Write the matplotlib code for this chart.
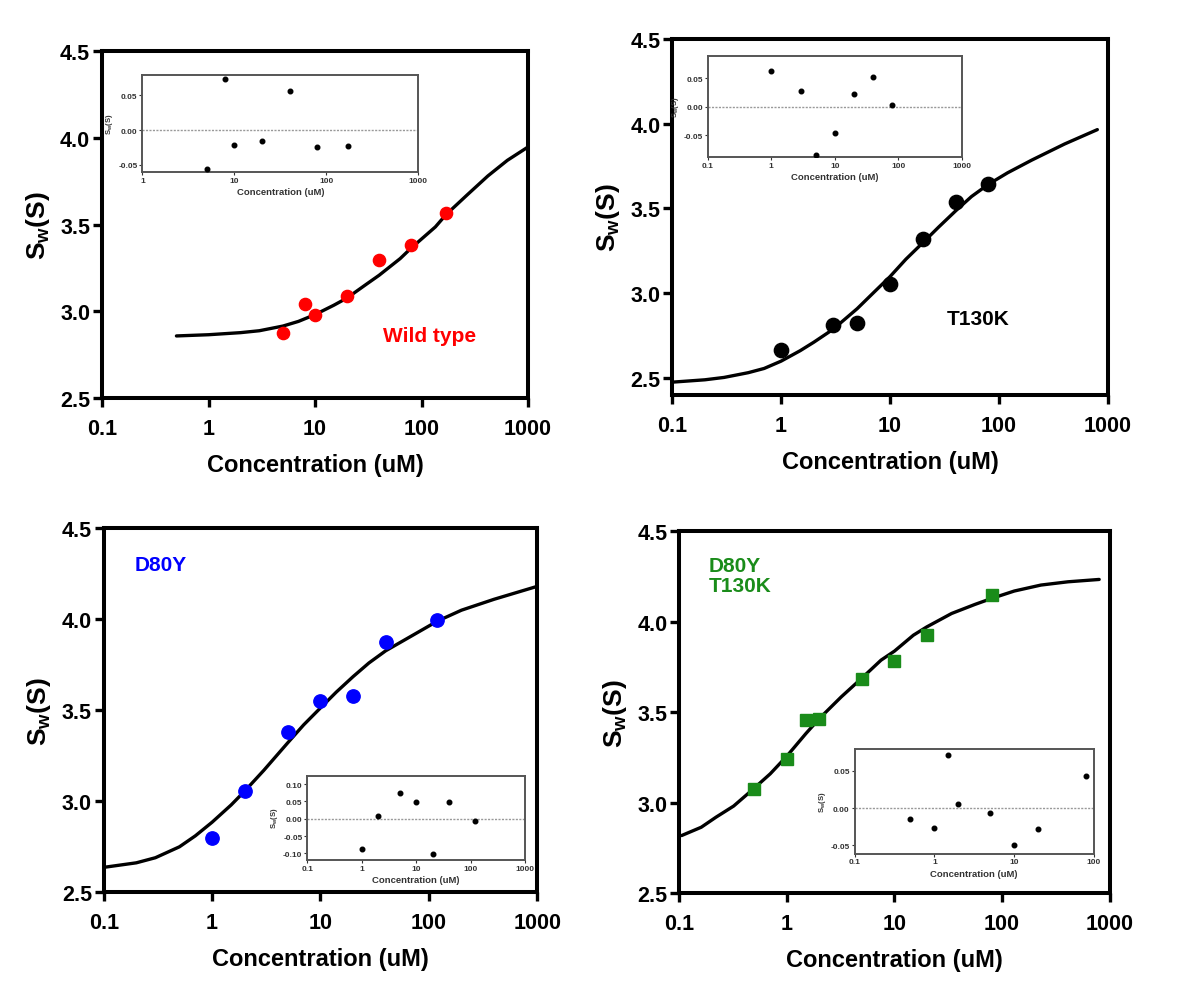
import numpy as np
import matplotlib.pyplot as plt
from matplotlib.ticker import FormatStrFormatter

plt.rcParams['font.family'] = ['Liberation Sans', 'DejaVu Sans']
plt.rcParams['font.weight'] = 'bold'
plt.rcParams['axes.labelweight'] = 'bold'
plt.rcParams['mathtext.fontset'] = 'custom'
plt.rcParams['mathtext.rm'] = 'Liberation Sans:bold'
plt.rcParams['mathtext.it'] = 'Liberation Sans:bold'
plt.rcParams['mathtext.bf'] = 'Liberation Sans:bold'

W, H = 1177, 1004

# ---- wild type
wt_conc = [5, 8, 10, 20, 40, 80, 170]
wt_sw = [2.877, 3.044, 2.977, 3.087, 3.298, 3.385, 3.570]
wt_fit_conc = [0.5, 1, 2, 3, 5, 7, 10, 15, 20, 30, 40, 63, 80, 135, 170, 270, 420, 640, 1000]
wt_fit_sw = [2.858, 2.865, 2.877, 2.888, 2.915, 2.942, 2.981, 3.035, 3.077, 3.154, 3.208,
             3.304, 3.365, 3.487, 3.558, 3.673, 3.781, 3.871, 3.948]
wt_res = [-0.0558, 0.0736, -0.0212, -0.0159, 0.0563, -0.024, -0.0226]

# ---- T130K
t_conc = [1, 3, 5, 10, 20, 40, 80]
t_sw = [2.661, 2.813, 2.823, 3.051, 3.32, 3.538, 3.645]
t_fit_conc = [0.1, 0.2, 0.3, 0.5, 0.7, 1, 1.5, 2, 3, 5, 7, 10, 14, 20, 28, 40, 56, 80, 120, 200, 400, 800]
t_fit_sw = [2.474, 2.488, 2.502, 2.530, 2.555, 2.598, 2.660, 2.710, 2.786, 2.908, 3.000, 3.097,
            3.200, 3.297, 3.390, 3.485, 3.570, 3.642, 3.710, 3.785, 3.880, 3.965]
t_res = [0.0626, 0.0269, -0.0848, -0.0462, 0.0228, 0.0526, 0.0029]

# ---- D80Y
d_conc = [1, 2, 5, 10, 20, 40, 120]
d_sw = [2.797, 3.057, 3.379, 3.549, 3.581, 3.874, 3.996]
d_fit_conc = [0.1, 0.2, 0.3, 0.5, 0.7, 1, 1.5, 2, 3, 5, 7, 10, 14, 20, 28, 40, 70, 120, 200, 400, 1000]
d_fit_sw = [2.637, 2.662, 2.690, 2.750, 2.810, 2.885, 2.980, 3.056, 3.170, 3.322, 3.420, 3.513,
            3.600, 3.685, 3.760, 3.827, 3.910, 3.990, 4.050, 4.110, 4.181]
d_res = [-0.0886, 0.0086, 0.073, 0.048, -0.101, 0.048, -0.0067]

# ---- D80Y T130K
dt_conc = [0.5, 1, 1.5, 2, 5, 10, 20, 80]
dt_sw = [3.076, 3.244, 3.458, 3.465, 3.684, 3.785, 3.927, 4.15]
dt_fit_conc = [0.105, 0.16, 0.22, 0.32, 0.47, 0.7, 1, 1.5, 2, 3.2, 5, 7.5, 10, 15, 20, 34, 56, 80,
               130, 230, 410, 800]
dt_fit_sw = [2.819, 2.865, 2.921, 2.982, 3.068, 3.160, 3.258, 3.382, 3.465, 3.585, 3.690, 3.788,
             3.838, 3.926, 3.972, 4.046, 4.096, 4.129, 4.170, 4.203, 4.221, 4.234]
dt_res = [-0.0147, -0.0268, 0.0714, 0.0058, -0.0063, -0.0496, -0.0277, 0.0437]

main_xticks = [0.1, 1, 10, 100, 1000]
main_xlabels = ['0.1', '1', '10', '100', '1000']
main_yticks = [2.5, 3.0, 3.5, 4.0, 4.5]

fig = plt.figure(figsize=(W / 100, H / 100), dpi=100)
fig.patch.set_facecolor('white')


def rect(x0, y0, x1, y1):
    # pixel box -> figure fraction
    return [x0 / W, 1 - y1 / H, (x1 - x0) / W, (y1 - y0) / H]


def main_axes(box, ylim):
    ax = fig.add_axes(rect(*box))
    ax.set_xscale('log')
    ax.set_xlim(0.1, 1000)
    ax.set_ylim(*ylim)
    ax.set_xticks(main_xticks)
    ax.set_xticklabels(main_xlabels)
    ax.minorticks_off()
    ax.set_yticks(main_yticks)
    ax.yaxis.set_major_formatter(FormatStrFormatter('%.1f'))
    for s in ax.spines.values():
        s.set_linewidth(2.9)
        s.set_color('black')
    ax.tick_params(axis='both', direction='out', length=6.5, width=2.4, labelsize=15.5)
    ax.tick_params(axis='x', pad=8)
    ax.tick_params(axis='y', pad=2)
    ax.set_xlabel('Concentration (uM)', fontsize=17, labelpad=10)
    ax.set_ylabel(r'$\mathrm{S_w}$(S)', fontsize=19, labelpad=6)
    return ax


def inset(box, xs, res, xlim, xticks, xlabels, ylim, yticks):
    ax = fig.add_axes(rect(*box))
    ax.set_xscale('log')
    ax.set_xlim(*xlim)
    ax.set_ylim(*ylim)
    ax.set_xticks(xticks)
    ax.set_xticklabels(xlabels)
    ax.minorticks_off()
    ax.set_yticks(yticks)
    ax.yaxis.set_major_formatter(FormatStrFormatter('%.2f'))
    ax.axhline(0, color='#999999', lw=1.0, ls=(0, (1.5, 1)), zorder=1)
    ax.plot(xs, res, 'o', color='black', ms=3.3, zorder=3)
    for s in ax.spines.values():
        s.set_linewidth(1.4)
        s.set_color('#555555')
    ax.tick_params(axis='both', direction='out', length=2, width=0.8, labelsize=6, pad=1.5, colors='#333333')
    ax.set_xlabel('Concentration (uM)', fontsize=6.8, labelpad=2.5, color='#333333')
    ax.set_ylabel(r'$\mathrm{S_w}$(S)', fontsize=5.5, labelpad=2, color='#333333')
    ax.set_facecolor('white')
    return ax


# top-left: wild type
ax1 = main_axes((102, 52.3, 528, 399), (2.5, 4.5))
ax1.plot(wt_fit_conc, wt_fit_sw, color='black', lw=2.4, zorder=2, solid_capstyle='round')
ax1.plot(wt_conc, wt_sw, 'o', color='#ff0000', ms=8.8, zorder=3)
ax1.text(0.66, 0.18, 'Wild type', color='#ff0000', fontsize=15, transform=ax1.transAxes, ha='left', va='center')
inset((142.3, 76, 418.3, 173), wt_conc, wt_res, (1, 1000), [1, 10, 100, 1000], ['1', '10', '100', '1000'],
      (-0.0603, 0.0794), [-0.05, 0.0, 0.05])

# top-right: T130K
ax2 = main_axes((672.1, 40, 1107.9, 395.7), (2.4, 4.5))
ax2.plot(t_fit_conc, t_fit_sw, color='black', lw=2.4, zorder=2, solid_capstyle='round')
ax2.plot(t_conc, t_sw, 'o', color='black', ms=10.3, zorder=3)
ax2.text(0.631, 0.213, 'T130K', color='black', fontsize=15, transform=ax2.transAxes, ha='left', va='center')
inset((707.7, 57.3, 961.7, 157.7), t_conc, t_res, (0.1, 1000), [0.1, 1, 10, 100, 1000],
      ['0.1', '1', '10', '100', '1000'], (-0.0877, 0.0883), [-0.05, 0.0, 0.05])

# bottom-left: D80Y
ax3 = main_axes((103.7, 529.3, 537.2, 893.3), (2.5, 4.5))
ax3.plot(d_fit_conc, d_fit_sw, color='black', lw=2.4, zorder=2, solid_capstyle='round')
ax3.plot(d_conc, d_sw, 'o', color='#0000ff', ms=9.6, zorder=3)
ax3.text(0.0715, 0.90, 'D80Y', color='#0000ff', fontsize=15, transform=ax3.transAxes, ha='left', va='center')
inset((307.3, 776.7, 525.2, 860.7), d_conc, d_res, (0.1, 1000), [0.1, 1, 10, 100, 1000],
      ['0.1', '1', '10', '100', '1000'], (-0.118, 0.124), [-0.10, -0.05, 0.0, 0.05, 0.10])

# bottom-right: D80Y T130K
ax4 = main_axes((679.3, 532.3, 1109.6, 894.3), (2.5, 4.5))
ax4.plot(dt_fit_conc, dt_fit_sw, color='black', lw=2.4, zorder=2, solid_capstyle='round')
ax4.plot(dt_conc, dt_sw, 's', color='#1a8c1a', ms=8.7, zorder=3)
ax4.text(0.069, 0.877, 'D80Y\nT130K', color='#1a8c1a', fontsize=15, transform=ax4.transAxes,
         ha='left', va='center', linespacing=1.05)
inset((854.5, 749.5, 1094, 854.5), dt_conc, dt_res, (0.1, 100), [0.1, 1, 10, 100],
      ['0.1', '1', '10', '100'], (-0.061, 0.080), [-0.05, 0.0, 0.05])

fig.savefig('out.png', dpi=100, facecolor='white')
